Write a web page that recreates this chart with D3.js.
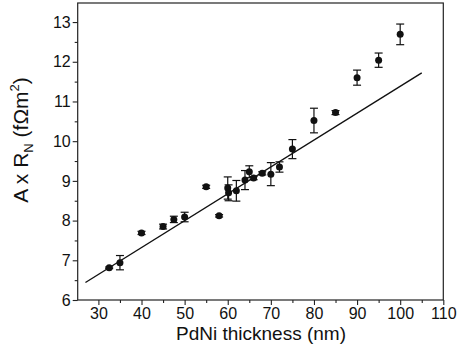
<!DOCTYPE html>
<html><head><meta charset="utf-8">
<script src="https://cdn.jsdelivr.net/npm/d3@7"></script>
<style>body{margin:0;background:#fff}svg{display:block}text{font-family:"Liberation Sans",Arial,sans-serif;fill:#111}</style>
</head><body>
<script>
const thickness = [32.5, 35, 40, 45, 47.5, 50, 55, 58, 60, 60.2, 62, 64, 65, 66, 68, 70, 72, 75, 80, 85, 90, 95, 100];
const arValues  = [6.81, 6.94, 7.69, 7.85, 8.03, 8.09, 8.85, 8.12, 8.82, 8.70, 8.75, 9.02, 9.23, 9.07, 9.19, 9.17, 9.35, 9.80, 10.52, 10.72, 11.60, 12.04, 12.69];
const arErrors  = [0.02, 0.18, 0.04, 0.06, 0.08, 0.12, 0.04, 0.03, 0.28, 0.20, 0.26, 0.24, 0.15, 0.04, 0.04, 0.29, 0.13, 0.24, 0.31, 0.05, 0.19, 0.18, 0.26];
const fitX = [27, 105];
const fitY = [6.44, 11.72];
const xTicks = [30, 40, 50, 60, 70, 80, 90, 100, 110];
const yTicks = [6, 7, 8, 9, 10, 11, 12, 13];

const W = 458, H = 353;
const L = 77.7, R = 443.3, T = 3, B = 300;
const svg = d3.select("body").append("svg").attr("width", W).attr("height", H);
const x = d3.scaleLinear().domain([25.2, 110]).range([L, R]);
const y = d3.scaleLinear().domain([6, 13.48]).range([B, T]);

// frame
svg.append("rect").attr("x", L).attr("y", T).attr("width", R - L).attr("height", B - T)
  .attr("fill", "none").attr("stroke", "#222").attr("stroke-width", 1.2);

// axes
const xMinor = d3.range(25, 111, 5).filter(v => v % 10 !== 0 && v >= 25.2);
const yMinor = d3.range(6.5, 13.5, 1);
const gx = svg.append("g").attr("transform", `translate(0,${B})`);
gx.call(d3.axisBottom(x).tickValues(xTicks).tickSize(5).tickPadding(3).tickFormat(d3.format("d")));
gx.selectAll("text").style("font-size", "16px").attr("fill", "#111");
gx.append("g").call(d3.axisBottom(x).tickValues(xMinor).tickSize(3).tickFormat(""));
gx.selectAll(".domain").remove();
gx.selectAll("line").attr("stroke", "#222").attr("stroke-width", 1.1);

const gy = svg.append("g").attr("transform", `translate(${L},0)`);
gy.call(d3.axisLeft(y).tickValues(yTicks).tickSize(5).tickPadding(2).tickFormat(d3.format("d")));
gy.selectAll("text").style("font-size", "16px").attr("fill", "#111");
gy.append("g").call(d3.axisLeft(y).tickValues(yMinor).tickSize(3).tickFormat(""));
gy.selectAll(".domain").remove();
gy.selectAll("line").attr("stroke", "#222").attr("stroke-width", 1.1);

// fit line
svg.append("line").attr("x1", x(fitX[0])).attr("y1", y(fitY[0]))
  .attr("x2", x(fitX[1])).attr("y2", y(fitY[1]))
  .attr("stroke", "#111").attr("stroke-width", 1.4);

// error bars
const data = thickness.map((t, i) => ({t, v: arValues[i], e: arErrors[i]}));
const eb = svg.append("g").attr("stroke", "#111").attr("stroke-width", 1.2);
data.forEach(d => {
  const g = eb.append("g");
  g.append("line").attr("x1", x(d.t)).attr("x2", x(d.t)).attr("y1", y(d.v - d.e)).attr("y2", y(d.v + d.e));
  [d.v - d.e, d.v + d.e].forEach(v => g.append("line")
    .attr("x1", x(d.t) - 4).attr("x2", x(d.t) + 4).attr("y1", y(v)).attr("y2", y(v)));
});
svg.append("g").selectAll("circle").data(data).join("circle")
  .attr("cx", d => x(d.t)).attr("cy", d => y(d.v)).attr("r", 3.5).attr("fill", "#111");

// labels
svg.append("text").attr("x", 261).attr("y", 340).attr("text-anchor", "middle")
  .style("font-size", "19px").text("PdNi thickness (nm)");
const yl = svg.append("text").attr("transform", "translate(28,140) rotate(-90)")
  .attr("text-anchor", "middle").style("font-size", "21px");
yl.append("tspan").text("A x R");
yl.append("tspan").attr("dy", 5).style("font-size", "13px").text("N");
yl.append("tspan").attr("dy", -5).text(" (fΩm");
yl.append("tspan").attr("dy", -9).style("font-size", "13px").text("2");
yl.append("tspan").attr("dy", 9).text(")");
</script>
</body></html>
